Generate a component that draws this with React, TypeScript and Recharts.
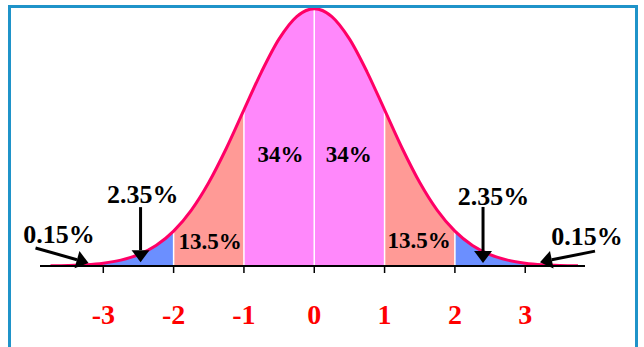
import React from 'react'
import {
  ComposedChart,
  Area,
  Line,
  XAxis,
  YAxis,
  ReferenceLine,
  ReferenceDot
} from 'recharts'

// sigma positions along the curve and the curve height read at each one
const sigmas = [
  -3.75, -3.5, -3.25, -3, -2.75, -2.5, -2.25, -2, -1.75, -1.5, -1.25, -1, -0.75, -0.5, -0.25, 0,
  0.25, 0.5, 0.75, 1, 1.25, 1.5, 1.75, 2, 2.25, 2.5, 2.75, 3, 3.25, 3.5, 3.75
]
const heights = [
  0.0004, 0.0009, 0.002, 0.0044, 0.0091, 0.0175, 0.0317, 0.054, 0.0863, 0.1295, 0.1826, 0.242,
  0.3011, 0.3521, 0.3867, 0.3989, 0.3867, 0.3521, 0.3011, 0.242, 0.1826, 0.1295, 0.0863, 0.054,
  0.0317, 0.0175, 0.0091, 0.0044, 0.002, 0.0009, 0.0004
]
const tickValues = [-3, -2, -1, 0, 1, 2, 3]
const dividers = [-2, -1, 0, 1, 2]
const shareLabels = ['34%', '34%', '13.5%', '13.5%', '2.35%', '2.35%', '0.15%', '0.15%']

const regions = [
  { key: 'tailL', from: -4, to: -3, color: '#f4a060' },
  { key: 'blueL', from: -3, to: -2, color: '#6b8fff' },
  { key: 'redL', from: -2, to: -1, color: '#ff9a96' },
  { key: 'mid', from: -1, to: 1, color: '#ff88fb' },
  { key: 'redR', from: 1, to: 2, color: '#ff9a96' },
  { key: 'blueR', from: 2, to: 3, color: '#6b8fff' },
  { key: 'tailR', from: 3, to: 4, color: '#f4a060' }
]

const rows = sigmas.map((s, i) => {
  const row: any = { x: s, y: heights[i] }
  regions.forEach((r) => {
    row[r.key] = s >= r.from && s <= r.to ? heights[i] : null
  })
  return row
})

const heightAt = (s: number) => heights[sigmas.indexOf(s)]

// where each share label sits (data coords, baseline of the text)
const labelSpots = [
  { x: -0.48, y: 0.1615, size: 23 },
  { x: 0.49, y: 0.1615, size: 23 },
  { x: -1.48, y: 0.0264, size: 23 },
  { x: 1.49, y: 0.028, size: 23 },
  { x: -2.44, y: 0.0978, size: 26 },
  { x: 2.55, y: 0.0947, size: 26 },
  { x: -3.63, y: 0.0357, size: 26 },
  { x: 3.88, y: 0.0326, size: 26 }
]

// arrow tips plus the offset back to the tail, in px
const arrows = [
  { x: -2.47, y: 0.006, dx: 0, dy: -55 },
  { x: 2.4, y: 0.0047, dx: 0, dy: -56 },
  { x: -3.21, y: 0.0047, dx: -53, dy: -15 },
  { x: 3.21, y: 0.006, dx: 55, dy: -11 }
]

const serif = '"Liberation Serif", "Times New Roman", serif'

const RedTick = ({ x, y, payload }: any) => (
  <text
    x={x}
    y={y + 49}
    textAnchor="middle"
    fill="#ff0000"
    fontSize={28}
    fontWeight="bold"
    fontFamily={serif}
  >
    {payload.value}
  </text>
)

const labelShape = (text: string, size: number) => (props: any) => (
  <text
    x={props.cx}
    y={props.cy}
    textAnchor="middle"
    fontSize={size}
    fontWeight="bold"
    fontFamily={serif}
    fill="#000"
  >
    {text}
  </text>
)

const arrowShape = (dx: number, dy: number) => (props: any) => {
  const { cx, cy } = props
  const len = Math.sqrt(dx * dx + dy * dy)
  const ux = -dx / len
  const uy = -dy / len
  const head = 12
  const half = 9
  const bx = cx - ux * head
  const by = cy - uy * head
  const px = -uy * half
  const py = ux * half
  return (
    <g>
      <line x1={cx + dx} y1={cy + dy} x2={bx} y2={by} stroke="#000" strokeWidth={3} />
      <polygon
        points={`${cx},${cy} ${bx + px},${by + py} ${bx - px},${by - py}`}
        fill="#000"
      />
    </g>
  )
}

export default function App() {
  return (
    <div
      style={{
        position: 'absolute',
        left: 0,
        top: 0,
        width: 644,
        height: 347,
        overflow: 'hidden',
        background: '#fff'
      }}
    >
      <div
        style={{
          position: 'absolute',
          left: 8,
          top: 5,
          width: 624,
          height: 345,
          borderTop: '3px solid #1f93c9',
          borderLeft: '3px solid #1f93c9',
          borderRight: '3px solid #1f93c9'
        }}
      />
      <div style={{ position: 'absolute', left: 0, top: 0 }}>
        <ComposedChart
          width={644}
          height={347}
          data={rows}
          margin={{ top: 8, right: 59, left: 40, bottom: 21 }}
        >
          <XAxis
            type="number"
            dataKey="x"
            domain={[-3.9, 3.85]}
            allowDataOverflow
            ticks={tickValues}
            height={60}
            tickSize={7}
            axisLine={{ stroke: '#000', strokeWidth: 2 }}
            tickLine={{ stroke: '#000', strokeWidth: 1.5 }}
            tick={<RedTick />}
          />
          <YAxis hide domain={[0, 0.4]} allowDataOverflow />
          {regions.map((r) => (
            <Area
              key={r.key}
              type="monotone"
              dataKey={r.key}
              stroke="none"
              fill={r.color}
              fillOpacity={1}
              isAnimationActive={false}
              dot={false}
              activeDot={false}
            />
          ))}
          {dividers.map((d) => (
            <ReferenceLine
              key={d}
              segment={[
                { x: d, y: 0 },
                { x: d, y: heightAt(d) }
              ]}
              stroke="#fff"
              strokeWidth={1.5}
            />
          ))}
          <Line
            type="monotone"
            dataKey="y"
            stroke="#ff0066"
            strokeWidth={3}
            dot={false}
            activeDot={false}
            isAnimationActive={false}
          />
          {labelSpots.map((p, i) => (
            <ReferenceDot
              key={'l' + i}
              x={p.x}
              y={p.y}
              r={0}
              ifOverflow="visible"
              shape={labelShape(shareLabels[i], p.size)}
            />
          ))}
          {arrows.map((a, i) => (
            <ReferenceDot
              key={'a' + i}
              x={a.x}
              y={a.y}
              r={0}
              ifOverflow="visible"
              shape={arrowShape(a.dx, a.dy)}
            />
          ))}
        </ComposedChart>
      </div>
    </div>
  )
}
